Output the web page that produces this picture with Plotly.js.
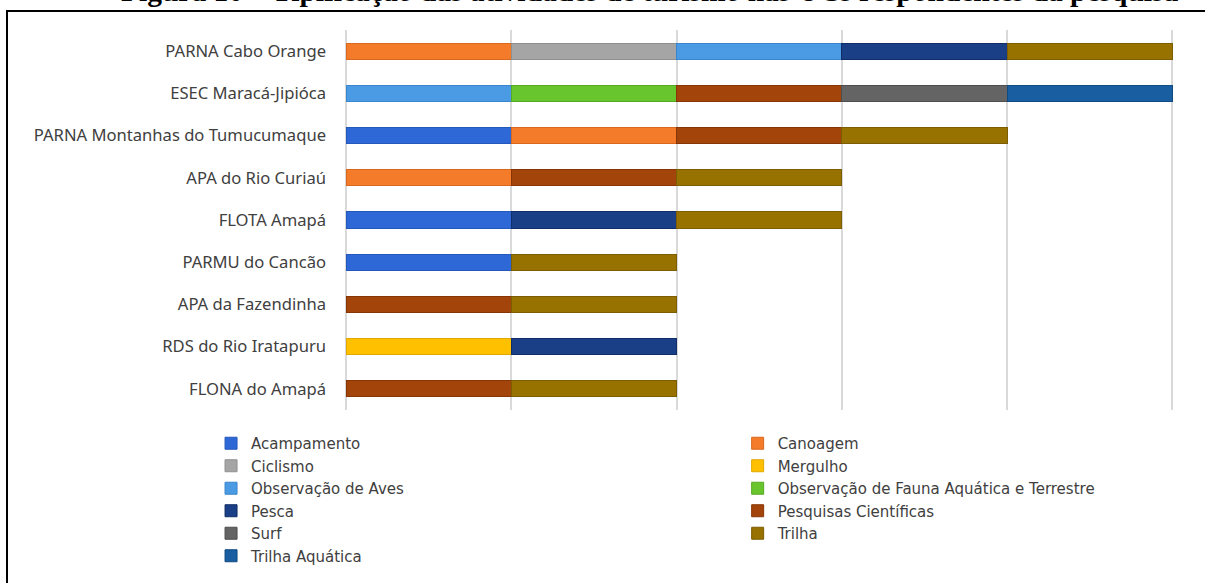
<!DOCTYPE html>
<html>
<head>
<meta charset="utf-8">
<script src="https://cdn.plot.ly/plotly-3.0.1.min.js"></script>
<style>
  html, body { margin: 0; padding: 0; background: #fff; overflow: hidden; }
  #wrap { position: relative; width: 1205px; height: 583px; overflow: hidden; }
  #frame { position: absolute; left: 6px; top: 10px; width: 1400px; height: 800px; border: 2px solid #000; box-sizing: border-box; }
  #chart { position: absolute; left: 0; top: 0; width: 1205px; height: 583px; }
</style>
</head>
<body>
<div id="wrap">
  <div id="frame"></div>
  <div id="chart"></div>
</div>
<script>
const categories = [
  'PARNA Cabo Orange',
  'ESEC Maracá-Jipióca',
  'PARNA Montanhas do Tumucumaque',
  'APA do Rio Curiaú',
  'FLOTA Amapá',
  'PARMU do Cancão',
  'APA da Fazendinha',
  'RDS do Rio Iratapuru',
  'FLONA do Amapá'
];

// One value per category (same order as categories); null = activity absent
const acampamento      = [null, null, 1, null, 1, 1, null, null, null];
const canoagem         = [1, null, 1, 1, null, null, null, null, null];
const ciclismo         = [1, null, null, null, null, null, null, null, null];
const mergulho         = [null, null, null, null, null, null, null, 1, null];
const observacaoAves   = [1, 1, null, null, null, null, null, null, null];
const observacaoFauna  = [null, 1, null, null, null, null, null, null, null];
const pesca            = [1, null, null, null, 1, null, null, 1, null];
const pesquisas        = [null, 1, 1, 1, null, null, 1, null, 1];
const surf             = [null, 1, null, null, null, null, null, null, null];
const trilha           = [1, null, 1, 1, 1, 1, 1, null, 1];
const trilhaAquatica   = [null, 1, null, null, null, null, null, null, null];

const seriesNames = [
  'Acampamento', 'Canoagem', 'Ciclismo', 'Mergulho', 'Observação de Aves',
  'Observação de Fauna Aquática e Terrestre', 'Pesca', 'Pesquisas Científicas',
  'Surf', 'Trilha', 'Trilha Aquática'
];
const seriesValues = [
  acampamento, canoagem, ciclismo, mergulho, observacaoAves,
  observacaoFauna, pesca, pesquisas, surf, trilha, trilhaAquatica
];
const fillColors = [
  '#2D68D6', '#F47B2A', '#A5A5A5', '#FFC000', '#4A9BE3',
  '#69C52D', '#1B3F86', '#A3450B', '#646464', '#977200', '#185EA1'
];
const lineColors = [
  '#2458BA', '#D9681E', '#8F8F8F', '#E0A800', '#3A86CC',
  '#57A823', '#0F2D66', '#873505', '#4E4E4E', '#7C5D00', '#0F4A82'
];

const data = seriesNames.map((name, i) => ({
  type: 'bar',
  orientation: 'h',
  name: name,
  y: categories,
  x: seriesValues[i],
  width: 0.38,
  legend: (i % 2 === 0) ? 'legend' : 'legend2',
  marker: { color: fillColors[i], line: { color: lineColors[i], width: 1 } },
  hoverinfo: 'name+y'
}));

const legendCommon = {
  orientation: 'v',
  traceorder: 'normal',
  xanchor: 'left',
  yanchor: 'top',
  bgcolor: 'rgba(0,0,0,0)',
  font: { family: 'DejaVu Sans, Noto Sans, sans-serif', size: 15, color: '#404040' },
  itemclick: false
};

const layout = {
  width: 1205,
  height: 583,
  margin: { l: 346, r: 31.35, t: 30, b: 173, pad: 0, autoexpand: false },
  paper_bgcolor: 'rgba(0,0,0,0)',
  plot_bgcolor: 'rgba(0,0,0,0)',
  barmode: 'stack',
  bargap: 0.62,
  showlegend: true,
  xaxis: {
    range: [0, 5.01],
    dtick: 1,
    tick0: 0,
    showgrid: true,
    gridcolor: '#D9D9D9',
    gridwidth: 1.5,
    zeroline: true,
    zerolinecolor: '#D9D9D9',
    zerolinewidth: 1.5,
    showticklabels: false,
    showline: false,
    ticks: '',
    fixedrange: true
  },
  yaxis: {
    type: 'category',
    range: [8.5, -0.5],
    showgrid: false,
    zeroline: false,
    showline: false,
    ticks: '',
    ticklabelstandoff: 19,
    tickfont: { family: 'Noto Sans, Open Sans, sans-serif', size: 16.6, color: '#404040' },
    fixedrange: true
  },
  legend: Object.assign({}, legendCommon, { x: -0.163, y: -0.0447 }),
  legend2: Object.assign({}, legendCommon, { x: 0.473, y: -0.0447 }),
  annotations: [{
    text: '<b>Figura 10 – Tipificação das atividades de turismo nas UCs respondentes da pesquisa</b>',
    xref: 'paper', yref: 'paper',
    x: 0.366, y: 1.055,
    xanchor: 'center', yanchor: 'bottom',
    showarrow: false,
    font: { family: 'Liberation Serif, Times New Roman, serif', size: 29.5, color: '#000' }
  }]
};

Plotly.newPlot('chart', data, layout, { displayModeBar: false });
</script>
</body>
</html>
